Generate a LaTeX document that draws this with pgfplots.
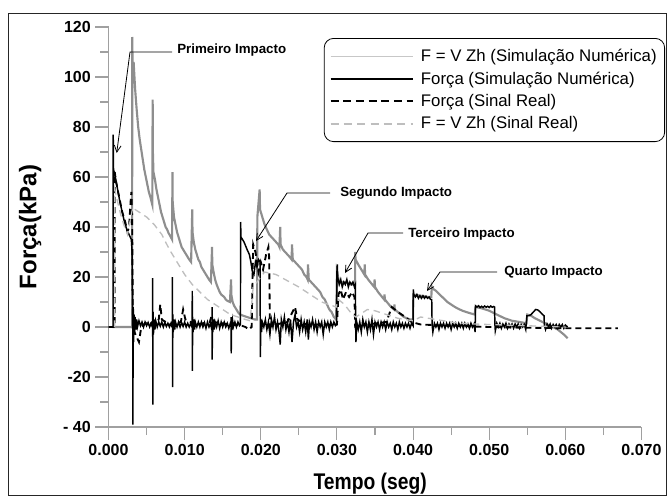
\documentclass[border=0pt]{standalone}
\usepackage{fontspec}
\setmainfont{Liberation Sans}
\usepackage{graphicx}
\usepackage{pgfplots}
\pgfplotsset{compat=1.18}
\usetikzlibrary{arrows.meta}
\definecolor{simgrey}{HTML}{8E8E8E}
\definecolor{lightdash}{HTML}{BEBEBE}
\definecolor{axgrey}{HTML}{A0A0A0}
\begin{document}
\begin{tikzpicture}
\begin{scope}[x=0.75pt,y=-0.75pt]
\useasboundingbox (0,0) rectangle (667,496);
\draw[line width=0.75pt, black!85] (8,13) rectangle (666,495);
\end{scope}
\begin{axis}[
  at={(81.375pt,-320.25pt)}, anchor=south west,
  scale only axis, width=399.75pt, height=300pt,
  xmin=0, xmax=0.07, ymin=-40, ymax=120,
  scaled x ticks=false,
  axis x line=bottom, axis y line=left,
  axis line style={axgrey, line width=0.8pt, -},
  xtick={0,0.01,0.02,0.03,0.04,0.05,0.06,0.07},
  xticklabels={0.000,0.010,0.020,0.030,0.040,0.050,0.060,0.070},
  ytick={-40,-20,0,20,40,60,80,100,120},
  yticklabels={- 40,-20,0,20,40,60,80,100,120},
  minor x tick num=1, minor y tick num=1,
  tick align=outside,
  major tick length=9.75pt, minor tick length=6pt,
  tick style={axgrey, line width=0.8pt},
  ticklabel style={font=\bfseries\fontsize{12}{14}\selectfont},
  xlabel={\scalebox{0.85}[1]{Tempo (seg)}},
  xlabel style={font=\bfseries\fontsize{17}{20}\selectfont, at={(axis description cs:0.491,-0.1425)}, anchor=center},
  ylabel={Força(kPa)},
  ylabel style={font=\bfseries\fontsize{18}{21}\selectfont, at={(axis description cs:-0.147,0.5)}, anchor=center},
  legend style={at={(axis description cs:0.404,0.9725)}, anchor=north west, draw=black, line width=0.6pt, rounded corners=7pt, fill=white, font=\fontsize{12.6}{14}\selectfont, inner xsep=4pt, inner ysep=7pt, row sep=4.2pt, column sep=3pt, nodes={inner xsep=2pt, inner ysep=1pt}},
  legend cell align=left,
  legend image code/.code={\draw[#1] (0pt,0pt) -- (62pt,0pt);},
]
\addplot[simgrey, line width=1.6pt, legend image post style={color=black!22, line width=0.8pt}] coordinates {
(0.0005,0) (0.0031,0) (0.00312,116) (0.00318,100) (0.0033,106) (0.0035,95) (0.0037,87) (0.0039,80) (0.0041,75) (0.0043,71) (0.0045,67) (0.0047,63) (0.0049,60) (0.0051,57) (0.0053,54) (0.0055,52) (0.00575,49) (0.0058,91) (0.00583,70) (0.0059,62) (0.0061,59) (0.0063,55) (0.0065,52) (0.0067,49) (0.0069,46) (0.0071,44) (0.0073,42) (0.0075,40) (0.0077,39) (0.0079,37.5) (0.0081,36.5) (0.00835,35) (0.0084,62) (0.00843,50) (0.0086,44) (0.0088,41) (0.009,38) (0.0092,36) (0.0094,34) (0.0096,32) (0.0098,31) (0.01,30) (0.0102,29) (0.0104,28) (0.0106,27) (0.01085,26) (0.011,47) (0.01103,38) (0.0112,34) (0.0114,31) (0.0116,29) (0.0118,27) (0.012,26) (0.0122,24) (0.0124,23) (0.0126,22) (0.0128,21) (0.013,20) (0.0132,19) (0.01345,18) (0.0136,32) (0.01363,25) (0.0138,22) (0.014,19) (0.0142,17) (0.0144,15.5) (0.0146,14) (0.0148,13) (0.015,12.5) (0.0152,12) (0.0154,11) (0.0156,10.5) (0.01595,10) (0.0161,19) (0.01613,13) (0.0163,10) (0.0165,8.5) (0.0167,7.5) (0.0169,6.5) (0.0171,5.5) (0.0173,5) (0.0177,4.5) (0.0182,4) (0.0187,3.5) (0.0192,3) (0.0195,3) (0.01955,44) (0.01985,55) (0.0199,47) (0.0202,44) (0.0205,41) (0.0208,39) (0.0211,37) (0.0214,36) (0.0217,35) (0.022,34) (0.0223,33) (0.02245,32) (0.02255,40) (0.0226,33) (0.0229,31) (0.0232,30) (0.0235,29) (0.0238,28) (0.02405,27) (0.0241,33) (0.0242,27) (0.0245,26) (0.0248,25) (0.0251,24) (0.0254,23) (0.0257,21) (0.026,20) (0.02615,19) (0.0262,25) (0.0263,19) (0.0266,18) (0.0269,17) (0.0272,16) (0.0275,15) (0.0278,14) (0.0281,12) (0.0284,11) (0.0287,9) (0.029,7) (0.0293,6) (0.0296,4) (0.0299,3) (0.03,22) (0.0303,18) (0.0308,18) (0.0313,18) (0.0318,17) (0.0322,17) (0.03238,17) (0.0324,30) (0.03245,27) (0.0328,25) (0.0332,23) (0.0336,21) (0.03365,25) (0.0337,21) (0.0341,19) (0.0345,17.5) (0.0349,16) (0.03495,19) (0.035,16) (0.0354,14) (0.0358,12.5) (0.0362,11) (0.03625,13) (0.0363,11) (0.0367,9.5) (0.0371,8) (0.0375,7) (0.03755,9) (0.0376,7) (0.038,6) (0.0384,5) (0.0388,4) (0.0392,3.5) (0.0396,3) (0.04,3) (0.04003,13) (0.041,12.5) (0.042,12) (0.0424,12) (0.04245,16) (0.0425,15.5) (0.043,14.5) (0.0435,13) (0.044,11.5) (0.0445,10) (0.045,9) (0.0455,8) (0.046,7.2) (0.0465,6.5) (0.047,6) (0.0475,5.5) (0.0481,5) (0.0482,8) (0.049,7.5) (0.05,6.5) (0.051,5) (0.052,3.5) (0.053,2.5) (0.054,2) (0.0549,1.5) (0.055,5) (0.0555,4.5) (0.056,3.5) (0.057,2) (0.058,0.5) (0.059,-1) (0.0598,-3) (0.0603,-4.5)
};
\addlegendentry{F = V Zh (Simulação Numérica)}
\addplot[black, line width=1.1pt, legend image post style={line width=1.1pt}] coordinates {
(0,0) (0.0006,0) (0.00062,77) (0.00066,63) (0.0009,60) (0.0012,55) (0.0015,50) (0.0018,46) (0.0021,42) (0.0024,39) (0.0027,37) (0.003,35) (0.0031,30) (0.00318,5) (0.0032,-39) (0.00325,8) (0.0033,-6) (0.00335,5) (0.0034,-3) (0.0035,4) (0.0036,-1) (0.0037,3) (0.0038,0) (0.004,2.5) (0.0042,0.5) (0.0044,2) (0.0046,0) (0.0048,2) (0.005,0.5) (0.0052,1.8) (0.0054,0) (0.0056,1.5) (0.0057,0.5) (0.00579,1) (0.0058,19.6) (0.00582,-31) (0.00585,6) (0.0059,-3) (0.006,3) (0.0061,-1) (0.0062,2.5) (0.0064,0) (0.0066,2) (0.0068,0.3) (0.007,2) (0.0072,0) (0.0074,1.8) (0.0076,0.2) (0.0078,1.5) (0.008,0) (0.0082,1.5) (0.0083,0.5) (0.00839,1) (0.0084,20) (0.00842,-24) (0.00845,5) (0.0085,-2) (0.0086,3) (0.0087,-1) (0.0088,2) (0.009,0) (0.0092,2) (0.0094,0) (0.0096,1.8) (0.0098,0.2) (0.01,2) (0.0102,0) (0.0104,1.5) (0.0106,0) (0.0108,1.5) (0.0109,0.5) (0.01099,1) (0.011,14.5) (0.01102,-17.5) (0.01105,4) (0.0111,-2) (0.0112,3) (0.0113,-1) (0.0114,2) (0.0116,0) (0.0118,2) (0.012,0) (0.0122,2) (0.0124,0) (0.0126,1.8) (0.0128,-0.5) (0.013,2) (0.0132,0) (0.0134,1.5) (0.0135,0) (0.01359,1) (0.0136,8) (0.01362,-13) (0.01365,4) (0.0137,-2) (0.0138,3) (0.0139,-1) (0.014,2) (0.0142,0) (0.0144,2.5) (0.0146,-0.5) (0.0148,2) (0.015,0) (0.0152,2) (0.0154,0) (0.0156,1.5) (0.0158,-0.5) (0.016,1.5) (0.01609,1) (0.0161,4) (0.01612,-10.5) (0.01615,3) (0.0162,-1) (0.0163,2.5) (0.0164,0) (0.0166,2) (0.0168,0) (0.017,2) (0.0172,0.5) (0.01733,1) (0.01735,42) (0.0174,36) (0.0178,34) (0.0182,31) (0.0185,29) (0.0187,26) (0.0189,22) (0.0191,21) (0.0193,26) (0.0195,24) (0.0197,27) (0.0199,26) (0.01992,10) (0.01995,-12) (0.02,3) (0.0201,-2) (0.0202,2) (0.0204,0) (0.0206,3) (0.0208,-1) (0.021,2) (0.0212,-3) (0.0214,3) (0.0216,0) (0.0218,4) (0.022,-1) (0.0222,2) (0.0224,-2) (0.02255,-7) (0.0227,3) (0.0229,0) (0.0231,4) (0.0233,-1) (0.0235,2) (0.0237,-2) (0.0239,3) (0.0241,-6) (0.0243,2) (0.0245,5) (0.0247,0) (0.0249,2) (0.0251,-2) (0.0253,3) (0.0255,-1) (0.0257,2) (0.0259,-2) (0.0261,3) (0.02625,-5) (0.0264,2) (0.0266,0) (0.0268,3) (0.027,-1) (0.0272,2) (0.0274,-2) (0.0276,2) (0.0278,0) (0.028,2) (0.0282,-3) (0.0284,2) (0.0286,0) (0.0288,2) (0.029,-1) (0.0292,2) (0.0294,0) (0.0296,2) (0.0298,0.5) (0.02995,1) (0.03,22) (0.03005,25) (0.0301,20) (0.0303,17) (0.0305,19) (0.0307,16) (0.0309,18) (0.0311,17) (0.0313,19) (0.0315,16) (0.0317,18) (0.0319,17) (0.0321,18) (0.0323,16) (0.03243,17) (0.03245,2) (0.0325,-6) (0.0326,2) (0.0328,-1) (0.033,2) (0.0332,-2) (0.0334,3) (0.0336,0) (0.0338,2) (0.034,-2) (0.0342,2) (0.0344,-1) (0.0346,3) (0.0348,-3) (0.035,2) (0.0352,0) (0.0354,2) (0.0356,-1) (0.0358,2) (0.036,0) (0.0362,2) (0.0364,-1) (0.0366,2) (0.0368,0) (0.037,1.5) (0.0372,-1) (0.0374,2) (0.0376,0) (0.0378,1.5) (0.038,-1) (0.0382,2) (0.0384,0) (0.0386,1.5) (0.0388,-0.5) (0.039,1.5) (0.0392,0) (0.0394,1.5) (0.0396,-0.5) (0.0398,1.5) (0.04,0.5) (0.04003,15) (0.0401,13) (0.0403,12) (0.0405,13) (0.0407,11.5) (0.0409,12.5) (0.0411,11.5) (0.0413,12.5) (0.0415,11.5) (0.0417,12.3) (0.0419,11.5) (0.0421,12) (0.0423,11) (0.04245,11) (0.0425,1) (0.0426,-2) (0.0428,1.5) (0.043,0) (0.0432,1.5) (0.0434,-1) (0.0436,1.5) (0.0438,0) (0.044,1.5) (0.0442,-0.5) (0.0444,1.5) (0.0446,0) (0.0448,1.5) (0.045,-1) (0.0452,1.5) (0.0454,0) (0.0456,1.5) (0.0458,-0.5) (0.046,1.5) (0.0462,0) (0.0464,1.5) (0.0466,-0.5) (0.0468,1.5) (0.047,0) (0.0472,1.2) (0.0474,-0.5) (0.0476,1.5) (0.0478,0) (0.048,1.2) (0.04815,-2) (0.0482,8.5) (0.0484,8) (0.0486,8.5) (0.0488,7.8) (0.049,8.3) (0.0492,7.8) (0.0494,8.4) (0.0496,7.9) (0.0498,8.3) (0.05,7.8) (0.0502,8.4) (0.0504,7.9) (0.0506,8.2) (0.0507,8) (0.05075,1) (0.0508,-1.5) (0.051,1.5) (0.0512,0) (0.0514,1.5) (0.0516,-0.5) (0.0518,1.2) (0.052,0) (0.0522,1.5) (0.0524,-0.5) (0.0526,1.2) (0.0528,0) (0.053,1.2) (0.0532,-0.5) (0.0534,1.2) (0.0536,0) (0.0538,1.2) (0.054,-0.5) (0.0542,1) (0.0544,0) (0.0546,1) (0.0548,-1) (0.05495,4.5) (0.0552,4.5) (0.0555,5) (0.0558,6) (0.0561,7) (0.0564,6.8) (0.0567,6) (0.057,5) (0.0572,4.5) (0.05725,0.5) (0.0574,-1) (0.0576,1.2) (0.0578,0) (0.058,1.2) (0.0582,-0.5) (0.0584,1) (0.0586,0) (0.0588,1) (0.059,-0.5) (0.0592,1) (0.0594,0) (0.0596,1) (0.0598,-0.5) (0.06,0.8) (0.0603,0)
};
\addlegendentry{Força (Simulação Numérica)}
\addplot[black, line width=1.4pt, dash pattern=on 4.5pt off 3pt, legend image post style={line width=1.5pt, dash pattern=on 6pt off 3.5pt}] coordinates {
(0,0) (0.0008,0) (0.00082,62) (0.001,58) (0.0014,52) (0.0018,46) (0.0022,42) (0.0025,38) (0.0027,40) (0.0029,50) (0.003,54) (0.0031,45) (0.0032,5) (0.0034,-2) (0.0037,-4) (0.004,-6) (0.0043,0) (0.005,2) (0.006,1) (0.0066,3) (0.0068,9) (0.007,3) (0.008,1) (0.0095,2) (0.0098,7) (0.0101,3) (0.0115,1) (0.0133,2) (0.0135,4) (0.0138,2) (0.016,1) (0.0175,0.5) (0.018,0) (0.0184,-1) (0.0188,0) (0.019,33) (0.0193,30) (0.0197,22) (0.02,26) (0.0203,23) (0.0207,29) (0.021,32) (0.0211,28) (0.0212,0) (0.022,1) (0.0235,2) (0.024,5) (0.0245,8) (0.0248,3) (0.026,1) (0.028,1) (0.03,1) (0.0302,13) (0.0305,15) (0.0308,11) (0.0312,14) (0.0316,12) (0.032,14) (0.0323,12) (0.0324,0) (0.034,1) (0.0365,2) (0.0372,8) (0.038,6) (0.039,4) (0.0398,2) (0.041,1) (0.045,0.5) (0.05,0) (0.055,-0.3) (0.06,-0.5) (0.0669,-0.5)
};
\addlegendentry{Força (Sinal Real)}
\addplot[lightdash, line width=1pt, dash pattern=on 5pt off 3.5pt, legend image post style={line width=1pt, dash pattern=on 6pt off 4pt}] coordinates {
(0.0008,0) (0.00082,55) (0.0012,50) (0.0016,45) (0.002,41) (0.0025,37) (0.003,45) (0.0032,48) (0.0035,47) (0.004,46) (0.005,44) (0.006,41) (0.007,37) (0.008,31) (0.009,26) (0.01,21) (0.011,17) (0.012,14) (0.013,11) (0.014,9) (0.015,7) (0.016,5) (0.017,4) (0.018,3) (0.0186,2.5) (0.019,16) (0.0205,22) (0.022,21) (0.025,16) (0.028,10) (0.0299,8) (0.0302,11) (0.031,9) (0.032,5) (0.0325,4) (0.033,5) (0.034,7) (0.035,6.5) (0.036,5.5) (0.037,4.5) (0.038,3.5) (0.039,3) (0.04,2.5) (0.041,4) (0.042,3.5) (0.044,2.5) (0.046,1.5) (0.048,1.2) (0.05,1) (0.055,0.5) (0.06,0)
};
\addlegendentry{F = V Zh (Sinal Real)}
\end{axis}
\begin{scope}[x=0.75pt,y=-0.75pt, font=\bfseries\fontsize{10}{12}\selectfont]
\draw[line width=0.6pt,-{Straight Barb[length=5pt,width=5pt]}] (172,52) -- (130,52) -- (116.7,153);
\node[anchor=base west, inner sep=0] at (177,53) {Primeiro Impacto};
\draw[line width=0.6pt,-{Straight Barb[length=5pt,width=5pt]}] (330,193) -- (287,193) -- (256,241);
\node[anchor=base west, inner sep=0] at (340,196) {Segundo Impacto};
\draw[line width=0.6pt,-{Straight Barb[length=5pt,width=5pt]}] (403,233) -- (368,233) -- (345,273);
\node[anchor=base west, inner sep=0] at (408,237) {Terceiro Impacto};
\draw[line width=0.6pt,-{Straight Barb[length=5pt,width=5pt]}] (497,272) -- (440,272) -- (427,291);
\node[anchor=base west, inner sep=0] at (504,275) {Quarto Impacto};
\end{scope}
\end{tikzpicture}
\end{document}
